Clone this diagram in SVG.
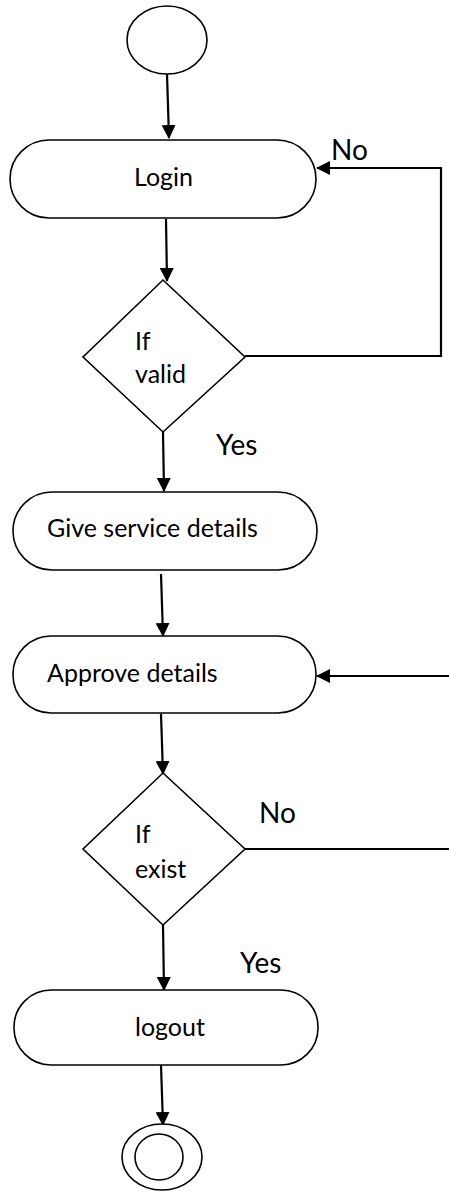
<svg xmlns="http://www.w3.org/2000/svg" width="449" height="1192" viewBox="0 0 449 1192">
<style>
.s{fill:#fff;stroke:#000;stroke-width:1.6}
.c{fill:none;stroke:#000;stroke-width:2.2}
.t{font-family:Lato,"Open Sans",sans-serif;font-size:25px;fill:#000}
.l{font-family:Lato,"Open Sans",sans-serif;font-size:28px;fill:#000}
</style>
<defs>
<marker id="a" markerWidth="14" markerHeight="14" refX="13" refY="7" orient="auto" markerUnits="userSpaceOnUse">
<path d="M0,0 L14,7 L0,14 Z" fill="#000"/>
</marker>
</defs>
<rect width="449" height="1192" fill="#fff"/>
<g id="connectors">
<line class="c" x1="167" y1="74" x2="169" y2="138" marker-end="url(#a)"/>
<line class="c" x1="166" y1="219" x2="167" y2="281" marker-end="url(#a)"/>
<polyline class="c" points="245,356 441,356 441,168 317,168" marker-end="url(#a)"/>
<line class="c" x1="163" y1="432" x2="164" y2="491" marker-end="url(#a)"/>
<line class="c" x1="161" y1="574" x2="163" y2="636" marker-end="url(#a)"/>
<line class="c" x1="449" y1="676" x2="317" y2="676" marker-end="url(#a)"/>
<line class="c" x1="161" y1="714" x2="163" y2="774" marker-end="url(#a)"/>
<line class="c" x1="245" y1="849" x2="449" y2="849"/>
<line class="c" x1="163" y1="925" x2="164" y2="990" marker-end="url(#a)"/>
<line class="c" x1="161" y1="1065" x2="163" y2="1125" marker-end="url(#a)"/>
</g>
<g id="start"><ellipse class="s" cx="167" cy="40" rx="40" ry="34"/></g>
<g id="login"><rect class="s" x="10" y="140" width="306" height="78" rx="39"/><text class="t" x="134" y="186">Login</text></g>
<g id="ifvalid"><polygon class="s" points="163,280 245,357 163,432 83,357"/><text class="t" x="135" y="350">If</text><text class="t" x="135" y="383">valid</text></g>
<g id="give"><rect class="s" x="13" y="492" width="304" height="78" rx="39"/><text class="t" x="47" y="537">Give service details</text></g>
<g id="approve"><rect class="s" x="13" y="636" width="303" height="77" rx="38"/><text class="t" x="47" y="682">Approve details</text></g>
<g id="ifexist"><polygon class="s" points="163,773 245,849 163,925 83,849"/><text class="t" x="135" y="843">If</text><text class="t" x="135" y="878">exist</text></g>
<g id="logout"><rect class="s" x="14" y="990" width="304" height="75" rx="37"/><text class="t" x="135" y="1036">logout</text></g>
<g id="end"><ellipse class="s" cx="162" cy="1157" rx="40" ry="33"/><ellipse class="s" cx="159" cy="1157" rx="24" ry="23"/></g>
<g id="labels">
<text class="l" x="331" y="160">No</text>
<text class="l" x="216" y="455">Yes</text>
<text class="l" x="259" y="823">No</text>
<text class="l" x="240" y="973">Yes</text>
</g>
</svg>
